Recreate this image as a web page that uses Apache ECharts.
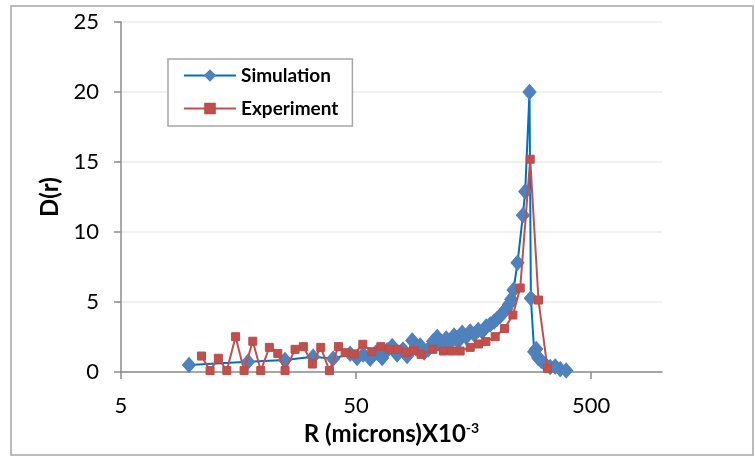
<!DOCTYPE html>
<html>
<head>
<meta charset="utf-8">
<script src="https://cdn.jsdelivr.net/npm/echarts@6/dist/echarts.min.js"></script>
<style>
  html, body { margin: 0; padding: 0; background: #fff; }
  #chart { width: 755px; height: 458px; }
</style>
</head>
<body>
<div id="chart"></div>
<script>
// Pore radius R (microns x10^-3) and distribution D(r)
const simR = [9.73, 17.35, 24.9, 32.8, 39.9, 47.2, 50.5, 53.6, 57.4, 60.8, 64.5, 67.8, 71.2, 74.7, 79.2, 82.4, 86.6, 90.0, 93.6, 97.4, 101.2, 106.3, 110.6, 115.0, 120.8, 125.6, 130.6, 135.8, 141.3, 146.9, 152.8, 158.9, 165.2, 171.9, 178.8, 185.9, 193.3, 199.1, 205.0, 211.2, 217.5, 222.8, 228.4, 233.5, 242.9, 256.1, 261.9, 273.2, 276.9, 286.0, 291.7, 297.5, 306.4, 318.6, 334.6, 351.4, 369.1, 391.4];
const simD = [0.5, 0.74, 0.86, 1.09, 0.95, 1.3, 1.0, 1.25, 0.95, 1.4, 1.0, 1.55, 1.85, 1.25, 1.6, 1.15, 2.25, 1.7, 1.9, 1.4, 1.6, 2.2, 2.5, 1.9, 2.4, 2.1, 2.6, 2.2, 2.8, 2.5, 2.9, 2.7, 3.0, 2.9, 3.25, 3.4, 3.6, 3.8, 4.0, 4.25, 4.5, 4.8, 5.2, 5.86, 7.8, 11.2, 12.9, 20.0, 5.26, 1.45, 1.65, 1.0, 0.8, 0.55, 0.35, 0.4, 0.2, 0.1];

const expR = [11.0, 11.96, 12.97, 14.09, 15.36, 16.69, 18.18, 19.65, 21.38, 23.22, 24.93, 27.5, 29.83, 32.58, 35.37, 38.49, 42.04, 44.9, 49.17, 53.4, 58.3, 63.7, 69.3, 75.2, 81.6, 88.5, 94.5, 106, 117.6, 127.7, 138.5, 152.8, 165.7, 178.2, 195.2, 213.8, 232.2, 249.4, 275.1, 298.3, 325.8];
const expD = [1.14, 0.1, 0.98, 0.1, 2.52, 0.1, 2.2, 0.1, 1.76, 1.33, 0.1, 1.62, 1.81, 0.57, 1.76, 0.1, 1.81, 1.38, 1.29, 1.98, 1.45, 1.81, 1.62, 1.62, 1.4, 1.52, 1.26, 1.62, 1.5, 1.5, 1.5, 1.76, 2.0, 2.17, 2.52, 3.1, 4.07, 6.0, 15.2, 5.14, 0.26];

const xTicks = [5, 50, 500];

const FONT = 'Lato, "Open Sans", sans-serif';

function pairs(xs, ys) {
  return xs.map((x, i) => [x, ys[i]]);
}

const chart = echarts.init(document.getElementById('chart'), null, { renderer: 'canvas' });

chart.setOption({
  animation: false,
  backgroundColor: '#ffffff',
  textStyle: { fontFamily: FONT },
  grid: { left: 121, right: 93, top: 22, bottom: 86, containLabel: false },
  graphic: [{
    type: 'rect',
    shape: { x: 11, y: 6, width: 742, height: 449 },
    style: { fill: 'none', stroke: '#a6a6a6', lineWidth: 1.5 },
    silent: true
  }],
  legend: {
    orient: 'vertical',
    left: 168,
    top: 59,
    padding: [7, 14, 8, 15],
    itemGap: 14,
    itemWidth: 52,
    itemHeight: 12,
    borderColor: '#a6a6a6',
    borderWidth: 1.5,
    backgroundColor: '#ffffff',
    textStyle: { fontFamily: FONT, fontSize: 19, fontWeight: 'bold', color: '#000' },
    data: ['Simulation', 'Experiment']
  },
  xAxis: {
    type: 'log',
    logBase: 10,
    min: 5,
    max: 1000,
    name: '{b|R (microns)X10}{s|-3}',
    nameLocation: 'middle',
    nameGap: 48,
    nameTextStyle: {
      fontFamily: FONT,
      fontSize: 24,
      fontWeight: 'bold',
      color: '#000',
      rich: {
        b: { fontFamily: FONT, fontSize: 24, fontWeight: 'bold', color: '#000' },
        s: { fontFamily: FONT, fontSize: 14, fontWeight: 'bold', color: '#000', verticalAlign: 'top', padding: [0, 0, 10, 0] }
      }
    },
    axisLine: { show: true, lineStyle: { color: '#8c8c8c', width: 1.5 } },
    axisTick: { show: true, inside: false, length: 7, customValues: xTicks, lineStyle: { color: '#8c8c8c', width: 1.5 } },
    axisLabel: { customValues: xTicks, margin: 23, fontSize: 22, color: '#000', fontFamily: FONT },
    splitLine: { show: false },
    minorTick: { show: false },
    minorSplitLine: { show: false }
  },
  yAxis: {
    type: 'value',
    min: 0,
    max: 25,
    interval: 5,
    name: 'D(r)',
    nameLocation: 'middle',
    nameGap: 58,
    nameTextStyle: { fontFamily: FONT, fontSize: 24, fontWeight: 'bold', color: '#000' },
    axisLine: { show: true, lineStyle: { color: '#8c8c8c', width: 1.5 } },
    axisTick: { show: true, inside: false, length: 7, lineStyle: { color: '#8c8c8c', width: 1.5 } },
    axisLabel: { margin: 22, fontSize: 22, color: '#000', fontFamily: FONT },
    splitLine: { show: true, lineStyle: { color: '#ececec', width: 1.5 } }
  },
  series: [
    {
      name: 'Simulation',
      type: 'line',
      data: pairs(simR, simD),
      symbol: 'diamond',
      symbolSize: [13, 15],
      showAllSymbol: true,
      lineStyle: { color: '#0070c0', width: 2 },
      itemStyle: { color: '#4f81bd', borderColor: '#4f81bd', borderWidth: 1 },
      z: 2
    },
    {
      name: 'Experiment',
      type: 'line',
      data: pairs(expR, expD),
      symbol: 'rect',
      symbolSize: 8,
      showAllSymbol: true,
      lineStyle: { color: '#c0504d', width: 2 },
      itemStyle: { color: '#c0504d', borderColor: '#be4b48', borderWidth: 1 },
      z: 3
    }
  ]
});
</script>
</body>
</html>
